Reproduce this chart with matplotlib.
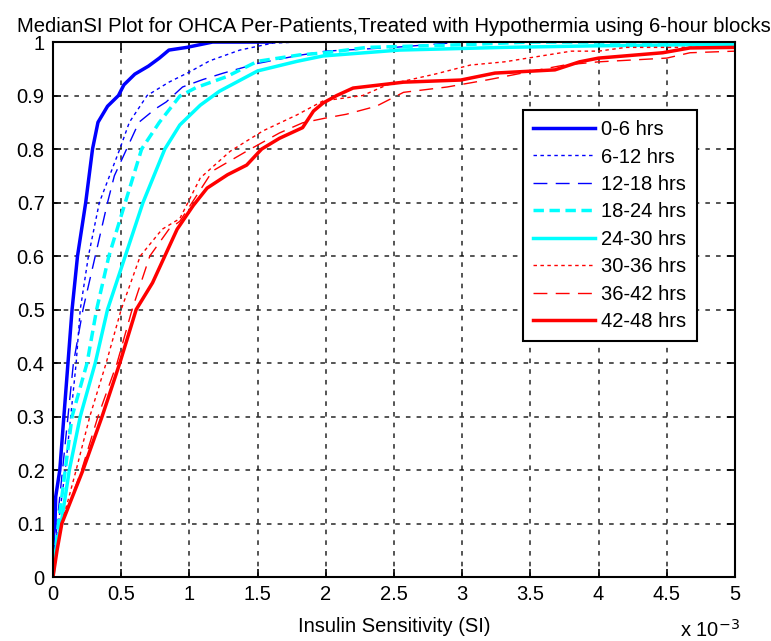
import matplotlib
matplotlib.use("Agg")
import matplotlib.pyplot as plt
from matplotlib.ticker import FuncFormatter, MultipleLocator

plt.rcParams['font.family'] = ['Liberation Sans', 'DejaVu Sans']

# Insulin sensitivity in units of 1e-3, cumulative fraction of patients
labels = ["0-6 hrs", "6-12 hrs", "12-18 hrs", "18-24 hrs",
          "24-30 hrs", "30-36 hrs", "36-42 hrs", "42-48 hrs"]

x_0_6 = [0, 0.005, 0.015, 0.02, 0.05, 0.08, 0.11, 0.14, 0.18, 0.24, 0.29, 0.33,
         0.4, 0.48, 0.52, 0.6, 0.7, 0.78, 0.85, 0.98, 1.17, 1.6]
y_0_6 = [0, 0.08, 0.1, 0.15, 0.2, 0.3, 0.4, 0.5, 0.6, 0.7, 0.8, 0.85,
         0.88, 0.9, 0.92, 0.94, 0.955, 0.97, 0.985, 0.99, 1.0, 1.0]

x_6_12 = [0, 0.01, 0.04, 0.09, 0.13, 0.17, 0.2, 0.26, 0.34, 0.49, 0.56, 0.69,
          0.85, 1.0, 1.15, 1.37, 1.61, 1.8, 5.0]
y_6_12 = [0, 0.05, 0.1, 0.2, 0.3, 0.4, 0.5, 0.6, 0.7, 0.8, 0.85, 0.9,
          0.925, 0.944, 0.965, 0.985, 0.998, 1.0, 1.0]

x_12_18 = [0, 0.01, 0.03, 0.07, 0.11, 0.15, 0.22, 0.31, 0.4, 0.45, 0.54, 0.63,
           0.75, 0.83, 0.95, 1.1, 1.25, 1.5, 1.8, 2.0, 2.5, 3.0, 5.0]
y_12_18 = [0, 0.04, 0.1, 0.2, 0.3, 0.4, 0.5, 0.6, 0.7, 0.75, 0.8, 0.85,
           0.875, 0.888, 0.916, 0.93, 0.942, 0.96, 0.975, 0.983, 0.99, 1.0, 1.0]

x_18_24 = [0, 0.01, 0.04, 0.09, 0.14, 0.25, 0.32, 0.41, 0.53, 0.65, 0.78, 0.93,
           1.05, 1.27, 1.5, 1.81, 2.0, 2.3, 3.0, 3.5, 5.0]
y_18_24 = [0, 0.03, 0.1, 0.2, 0.3, 0.4, 0.5, 0.6, 0.7, 0.8, 0.85, 0.899,
           0.915, 0.935, 0.964, 0.976, 0.98, 0.99, 0.995, 1.0, 1.0]

x_24_30 = [0, 0.02, 0.06, 0.12, 0.2, 0.31, 0.4, 0.53, 0.66, 0.74, 0.82, 0.93,
           1.08, 1.22, 1.5, 1.79, 1.98, 2.54, 3.3, 4.0, 5.0]
y_24_30 = [0, 0.05, 0.1, 0.2, 0.3, 0.4, 0.5, 0.6, 0.7, 0.75, 0.8, 0.845,
           0.882, 0.908, 0.946, 0.964, 0.974, 0.985, 0.99, 0.993, 0.996]

x_30_36 = [0, 0.03, 0.065, 0.17, 0.27, 0.39, 0.5, 0.64, 0.8, 0.93, 1.08, 1.3,
           1.54, 1.79, 1.98, 2.27, 2.45, 2.8, 3.06, 3.31, 3.8, 4.0, 4.2, 5.0]
y_30_36 = [0, 0.05, 0.1, 0.2, 0.3, 0.4, 0.5, 0.6, 0.65, 0.67, 0.746, 0.796,
           0.834, 0.864, 0.89, 0.9, 0.92, 0.94, 0.957, 0.963, 0.983, 0.983, 0.99, 0.99]

x_36_42 = [0, 0.03, 0.065, 0.21, 0.33, 0.47, 0.58, 0.71, 0.85, 0.93, 1.02, 1.17,
           1.42, 1.66, 1.83, 2.0, 2.15, 2.37, 2.57, 2.89, 3.2, 3.5, 3.75, 4.0,
           4.5, 4.67, 5.0]
y_36_42 = [0, 0.05, 0.1, 0.2, 0.3, 0.4, 0.5, 0.6, 0.65, 0.665, 0.7, 0.759,
           0.796, 0.83, 0.849, 0.858, 0.865, 0.88, 0.906, 0.916, 0.93, 0.945, 0.957, 0.963,
           0.97, 0.98, 0.983]

x_42_48 = [0, 0.03, 0.065, 0.22, 0.36, 0.49, 0.61, 0.73, 0.82, 0.91, 1.03, 1.13,
           1.28, 1.42, 1.53, 1.66, 1.83, 1.91, 1.98, 2.08, 2.2, 2.57, 2.99, 3.24,
           3.68, 3.86, 4.0, 4.47, 4.67, 5.0]
y_42_48 = [0, 0.05, 0.1, 0.2, 0.3, 0.4, 0.5, 0.55, 0.6, 0.65, 0.695, 0.727,
           0.752, 0.77, 0.8, 0.82, 0.84, 0.871, 0.886, 0.9, 0.914, 0.925, 0.929, 0.942,
           0.948, 0.963, 0.97, 0.98, 0.989, 0.99]

xs = [x_0_6, x_6_12, x_12_18, x_18_24, x_24_30, x_30_36, x_36_42, x_42_48]
ys = [y_0_6, y_6_12, y_12_18, y_18_24, y_24_30, y_30_36, y_36_42, y_42_48]

styles = [
    dict(color='#0000ff', lw=2.5, ls='-'),
    dict(color='#0000ff', lw=1.0, ls=(0, (2.5, 2.5))),
    dict(color='#0000ff', lw=1.0, ls=(0, (10, 6))),
    dict(color='#00ffff', lw=2.5, ls=(0, (3, 1.6))),
    dict(color='#00ffff', lw=2.5, ls='-'),
    dict(color='#ff0000', lw=1.0, ls=(0, (2.5, 2.5))),
    dict(color='#ff0000', lw=1.0, ls=(0, (10, 6))),
    dict(color='#ff0000', lw=2.5, ls='-'),
]

fig = plt.figure(figsize=(7.71, 6.41), dpi=100)
ax = fig.add_axes([0.0687, 0.0998, 0.8846, 0.8346])

for x, y, lab, st in zip(xs, ys, labels, styles):
    ax.plot(x, y, label=lab, **st)

ax.set_xlim(0, 5)
ax.set_ylim(0, 1)
ax.xaxis.set_major_locator(MultipleLocator(0.5))
ax.yaxis.set_major_locator(MultipleLocator(0.1))
fmt = FuncFormatter(lambda v, p: '%g' % round(v, 2))
ax.xaxis.set_major_formatter(fmt)
ax.yaxis.set_major_formatter(fmt)
ax.tick_params(direction='in', length=6, width=1.2, labelsize=14.5,
               top=True, right=True, colors='black', pad=6)
ax.grid(True, color='black', linestyle=(0, (3, 4)), linewidth=1.1, alpha=0.85)
for sp in ax.spines.values():
    sp.set_linewidth(1.5)

ax.set_title("MedianSI Plot for OHCA Per-Patients,Treated with Hypothermia using 6-hour blocks",
             fontsize=14.6, pad=7)
ax.set_xlabel("Insulin Sensitivity (SI)", fontsize=14.5, labelpad=9)
fig.text(0.882, 0.0, r"x 10$^{-3}$", fontsize=14.5, ha='left', va='bottom')

leg = ax.legend(loc='upper left', bbox_to_anchor=(0.689, 0.873), fontsize=14.5,
                frameon=True, fancybox=False, framealpha=1, edgecolor='black',
                handlelength=3.1, labelspacing=0.42, borderpad=0.5,
                handletextpad=0.3, borderaxespad=0)
leg.get_frame().set_linewidth(1.5)

fig.savefig("out.png", dpi=100)
